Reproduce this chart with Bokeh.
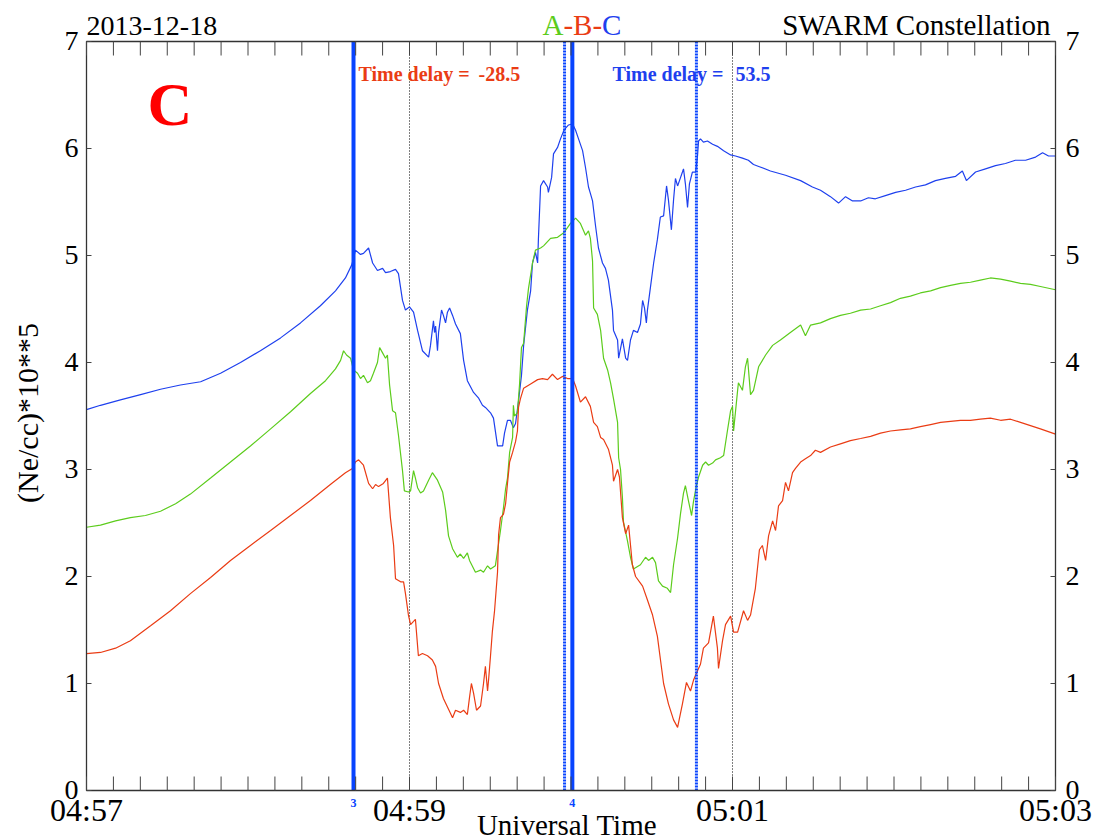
import math
from bokeh.plotting import figure
from bokeh.models import Range1d
from bokeh.core.properties import value
from bokeh.embed import file_html
from bokeh.resources import INLINE

# ---- data: time in seconds after 04:57:00 UT, density in 10^5 /cc ----
t_c = [0.0, 5.2, 12.6, 20.1, 27.5, 34.9, 42.4, 49.8, 57.2, 64.6, 72.1, 79.5, 86.9, 92.5, 96.2, 98.5,
       99.2, 99.9, 101.8, 102.9, 104.8, 106.3, 108.1, 110.0, 111.1, 112.9, 114.8, 115.9, 117.4, 118.5,
       120.0, 121.5, 123.0, 124.8, 127.1, 127.8, 128.9, 129.3, 129.7, 130.4, 130.8, 131.9, 132.6, 133.4,
       134.1, 134.9, 136.0, 137.1, 138.9, 140.1, 141.5, 143.8, 145.6, 147.1, 148.2, 150.1, 151.2, 152.7,
       154.6, 155.3, 156.4, 157.5, 158.6, 159.4, 160.5, 161.6, 162.4, 163.8, 165.0, 165.7, 166.8, 167.6,
       167.9, 168.7, 169.8, 171.3, 171.6, 172.8, 173.5, 175.0, 176.1, 177.2, 178.0, 179.1, 180.6, 181.7,
       182.8, 184.3, 185.4, 186.5, 187.2, 188.0, 189.1, 190.2, 191.7, 192.8, 193.9, 195.4, 195.8, 197.3,
       197.7, 198.4, 199.1, 200.3, 201.0, 202.1, 203.2, 204.7, 205.8, 206.6, 207.3, 208.0, 208.4, 209.5,
       210.7, 212.1, 213.2, 214.4, 215.5, 216.2, 217.3, 218.1, 218.8, 219.6, 220.3, 221.4, 221.8, 222.5,
       223.3, 224.0, 225.1, 226.3, 227.0, 227.4, 228.1, 229.2, 230.7, 232.6, 234.4, 236.7, 239.3, 241.1,
       243.7, 245.9, 247.8, 250.0, 254.1, 259.7, 265.3, 269.7, 272.7, 276.4, 279.4, 282.0, 284.6, 287.6,
       290.5, 293.1, 296.8, 300.6, 304.3, 308.0, 311.7, 315.4, 319.1, 322.9, 325.4, 326.9, 330.3, 334.0,
       337.7, 341.4, 345.1, 348.9, 352.6, 355.2, 357.4, 360.0]
ne_c = [3.56, 3.60, 3.65, 3.70, 3.75, 3.79, 3.82, 3.90, 4.00, 4.11, 4.23, 4.37, 4.53, 4.67, 4.79, 4.91,
        4.97, 5.05, 5.01, 5.02, 5.07, 4.93, 4.86, 4.88, 4.84, 4.85, 4.87, 4.83, 4.58, 4.49,
        4.52, 4.47, 4.30, 4.11, 4.05, 4.16, 4.39, 4.28, 4.34, 4.11, 4.28, 4.49, 4.44, 4.37,
        4.47, 4.51, 4.44, 4.36, 4.27, 4.02, 3.83, 3.72, 3.67, 3.60, 3.58, 3.53, 3.48, 3.22,
        3.22, 3.34, 3.46, 3.46, 3.39, 3.43, 3.64, 3.88, 4.16, 4.49, 4.67, 4.93, 5.03, 4.93,
        5.16, 5.65, 5.70, 5.64, 5.59, 5.73, 5.95, 6.01, 6.09, 6.16, 6.19, 6.22, 6.23, 6.17,
        6.09, 5.98, 5.82, 5.64, 5.58, 5.51, 5.28, 5.07, 4.93, 4.88, 4.77, 4.49, 4.30, 4.21,
        4.04, 4.13, 4.22, 4.04, 4.02, 4.21, 4.30, 4.28, 4.36, 4.58, 4.51, 4.37, 4.49, 4.70,
        4.93, 5.15, 5.36, 5.37, 5.65, 5.52, 5.24, 5.52, 5.72, 5.65, 5.70, 5.78, 5.81, 5.67,
        5.45, 5.67, 5.78, 5.78, 5.93, 6.07, 6.09, 6.06, 6.07, 6.04, 6.02, 5.98, 5.94, 5.93,
        5.91, 5.89, 5.85, 5.83, 5.79, 5.75, 5.70, 5.64, 5.61, 5.55, 5.49, 5.55, 5.51, 5.51,
        5.54, 5.53, 5.56, 5.59, 5.61, 5.64, 5.66, 5.70, 5.72, 5.74, 5.79, 5.70, 5.78, 5.81,
        5.84, 5.86, 5.89, 5.89, 5.92, 5.96, 5.93, 5.93]

t_a = [0.0, 5.2, 10.8, 16.3, 21.9, 27.5, 33.1, 38.6, 46.1, 53.5, 60.9, 68.4, 75.8, 83.2, 88.8, 92.5,
       94.4, 95.5, 96.6, 98.1, 99.2, 100.7, 101.8, 102.9, 104.4, 105.5, 106.6, 108.1, 108.9, 110.0,
       111.1, 111.8, 112.6, 113.7, 114.8, 115.9, 117.4, 118.1, 119.6, 120.4, 121.5, 122.2, 123.0, 124.1,
       125.2, 127.1, 128.5, 130.4, 132.3, 133.4, 134.5, 136.0, 137.8, 138.9, 140.1, 141.5, 142.3, 144.5,
       146.4, 147.5, 149.0, 150.1, 151.9, 152.7, 153.8, 154.9, 155.7, 156.4, 157.2, 158.3, 158.6, 159.0,
       160.1, 160.9, 161.6, 162.4, 163.5, 164.2, 165.7, 166.8, 168.7, 169.8, 172.4, 175.0, 177.2, 178.7,
       179.8, 181.7, 183.5, 185.4, 186.5, 187.2, 188.0, 188.4, 189.8, 191.0, 192.1, 193.6, 194.7, 195.8,
       197.3, 197.7, 198.4, 199.1, 199.5, 201.0, 202.1, 203.2, 205.8, 207.7, 208.8, 210.3, 211.4, 212.5,
       214.0, 215.8, 217.0, 218.1, 219.6, 220.7, 221.8, 222.5, 223.7, 224.8, 225.5, 226.6, 227.4, 228.9,
       230.0, 231.1, 232.6, 233.7, 235.5, 236.7, 238.1, 239.3, 240.0, 240.4, 241.9, 242.2, 243.7, 244.8,
       245.6, 246.7, 247.8, 249.7, 252.3, 254.9, 257.8, 261.5, 265.3, 267.1, 269.0, 272.7, 276.4, 280.1,
       283.8, 287.6, 291.3, 295.0, 298.7, 302.4, 306.1, 309.8, 313.6, 317.3, 321.0, 324.7, 328.4, 332.1,
       335.8, 339.6, 343.3, 347.0, 350.7, 354.4, 360.0]
ne_a = [2.46, 2.48, 2.52, 2.55, 2.57, 2.61, 2.68, 2.77, 2.92, 3.07, 3.22, 3.38, 3.54, 3.71, 3.83, 3.94,
        4.02, 4.11, 4.07, 4.04, 3.93, 3.90, 3.85, 3.88, 3.81, 3.83, 3.90, 4.00, 4.14, 4.09,
        4.04, 4.07, 3.79, 3.55, 3.53, 3.32, 2.99, 2.80, 2.79, 2.80, 2.99, 2.92, 2.83, 2.78,
        2.80, 2.90, 2.97, 2.90, 2.79, 2.62, 2.38, 2.26, 2.18, 2.21, 2.17, 2.22, 2.15, 2.04,
        2.06, 2.04, 2.10, 2.07, 2.10, 2.24, 2.43, 2.64, 2.82, 2.92, 3.16, 3.30, 3.60, 3.50,
        3.53, 3.80, 4.14, 4.18, 4.53, 4.69, 4.93, 5.05, 5.07, 5.09, 5.16, 5.17, 5.21, 5.26,
        5.30, 5.35, 5.30, 5.19, 5.23, 5.16, 4.95, 4.51, 4.45, 4.30, 4.04, 3.93, 3.81, 3.66,
        3.44, 3.11, 3.00, 2.74, 2.51, 2.33, 2.18, 2.07, 2.11, 2.18, 2.15, 2.18, 2.13, 1.96,
        1.91, 1.89, 1.85, 2.11, 2.36, 2.59, 2.78, 2.85, 2.70, 2.57, 2.70, 2.85, 2.93, 3.04,
        3.07, 3.04, 3.06, 3.09, 3.11, 3.13, 3.36, 3.55, 3.59, 3.36, 3.74, 3.81, 3.74, 3.96,
        4.04, 3.70, 3.74, 3.96, 4.07, 4.16, 4.21, 4.28, 4.35, 4.25, 4.35, 4.37, 4.41, 4.44,
        4.46, 4.49, 4.50, 4.53, 4.56, 4.60, 4.62, 4.65, 4.67, 4.70, 4.72, 4.74, 4.75, 4.77,
        4.79, 4.78, 4.76, 4.74, 4.73, 4.71, 4.68]

t_b = [0.0, 5.2, 10.8, 16.3, 23.8, 31.2, 38.6, 46.1, 53.5, 60.9, 68.4, 75.8, 83.2, 90.6, 96.2, 98.8,
       99.9, 101.1, 102.9, 104.8, 106.3, 107.4, 108.5, 110.3, 111.8, 112.9, 114.1, 114.8, 116.7, 117.8,
       118.5, 119.6, 120.4, 121.5, 122.2, 123.3, 124.8, 126.7, 128.5, 129.7, 130.8, 132.6, 134.5, 136.0,
       137.1, 138.9, 140.1, 141.5, 142.3, 143.0, 143.8, 144.9, 146.4, 147.5, 148.2, 149.0, 149.4, 150.1,
       150.8, 151.6, 152.7, 153.1, 153.8, 154.9, 155.7, 156.4, 157.2, 158.3, 159.4, 160.1, 160.5, 161.2,
       162.4, 165.0, 167.6, 169.4, 171.3, 173.1, 175.0, 176.8, 178.7, 180.6, 181.7, 183.5, 185.4, 187.2,
       188.4, 189.8, 191.0, 192.1, 193.9, 195.4, 195.8, 197.3, 198.0, 199.1, 200.3, 201.4, 202.8, 204.0,
       206.6, 208.4, 210.3, 212.1, 213.3, 214.4, 216.2, 218.1, 219.6, 221.4, 222.9, 224.4, 225.5, 227.0,
       228.1, 229.2, 231.1, 232.9, 234.4, 234.8, 236.3, 237.4, 239.3, 240.4, 241.9, 244.1, 245.6, 246.7,
       248.5, 250.0, 251.1, 252.3, 253.4, 254.9, 256.0, 257.1, 258.6, 259.7, 260.8, 262.3, 263.4, 265.3,
       267.1, 269.0, 270.8, 272.7, 276.4, 280.1, 283.8, 287.6, 291.3, 295.0, 298.7, 302.4, 306.1, 309.8,
       313.6, 317.3, 321.0, 324.7, 328.4, 332.1, 335.8, 339.6, 343.3, 347.0, 350.7, 354.4, 360.0]
ne_b = [1.28, 1.29, 1.33, 1.40, 1.54, 1.68, 1.84, 1.99, 2.15, 2.29, 2.43, 2.57, 2.71, 2.86, 2.97, 3.01,
        3.07, 3.09, 3.04, 2.87, 2.82, 2.86, 2.84, 2.87, 2.92, 2.55, 2.29, 1.98, 1.95, 1.95,
        1.84, 1.64, 1.55, 1.58, 1.60, 1.26, 1.28, 1.26, 1.22, 1.16, 1.00, 0.86, 0.76, 0.68,
        0.75, 0.73, 0.75, 0.71, 0.87, 1.00, 0.91, 0.75, 0.79, 1.00, 1.16, 0.93, 1.04, 1.26,
        1.49, 1.68, 2.04, 2.39, 2.55, 2.58, 2.68, 2.87, 3.07, 3.16, 3.26, 3.36, 3.58, 3.66,
        3.76, 3.80, 3.84, 3.85, 3.84, 3.89, 3.84, 3.87, 3.85, 3.85, 3.78, 3.63, 3.68, 3.59,
        3.44, 3.40, 3.30, 3.28, 3.19, 3.04, 2.89, 3.00, 2.93, 2.55, 2.40, 2.48, 2.11, 2.00,
        1.91, 1.78, 1.64, 1.44, 1.21, 1.00, 0.81, 0.66, 0.59, 0.81, 1.01, 0.93, 1.03, 1.12,
        1.18, 1.33, 1.38, 1.63, 1.33, 1.14, 1.40, 1.55, 1.63, 1.48, 1.48, 1.68, 1.59, 1.64,
        1.89, 2.25, 2.29, 2.15, 2.38, 2.52, 2.43, 2.66, 2.71, 2.88, 2.80, 2.97, 3.01, 3.07,
        3.10, 3.13, 3.18, 3.16, 3.21, 3.24, 3.27, 3.29, 3.31, 3.34, 3.36, 3.37, 3.38, 3.40,
        3.42, 3.44, 3.45, 3.46, 3.46, 3.47, 3.48, 3.46, 3.47, 3.44, 3.41, 3.38, 3.33]

xtick_secs = [0, 120, 240, 360]
xtick_labels = ["04:57", "04:59", "05:01", "05:03"]
minor_secs = list(range(0, 361, 10))
ytick_vals = [0, 1, 2, 3, 4, 5, 6, 7]

marker_secs = [99.2, 180.5]        # solid blue markers
marker_names = ["3", "4"]
shifted_secs = [177.6, 226.6]      # dotted blue (time-shifted) markers
ref_secs = [120, 240]              # black dotted reference lines
delay_red = "-28.5"
delay_blue = "53.5"

# ---- layout (pixels) ----
W, H = 1095, 839
LEFT, RIGHT, TOP, BOTTOM = 86, 40, 41, 49
px_x = (W - LEFT - RIGHT) / (xtick_secs[-1] - xtick_secs[0])   # px per second
px_y = (H - TOP - BOTTOM) / (ytick_vals[-1] - ytick_vals[0])   # px per unit
x0, x1 = xtick_secs[0], xtick_secs[-1]
y0, y1 = ytick_vals[0], ytick_vals[-1]

BLUE = "#1e40ee"
GREEN = "#5ccc1c"
RED = "#ea3c14"
MARK = "#0844ff"
FONT = value("Liberation Serif")

p = figure(width=W, height=H,
           x_range=Range1d(x0 - LEFT / px_x, x1 + RIGHT / px_x),
           y_range=Range1d(y0 - BOTTOM / px_y, y1 + TOP / px_y),
           x_axis_location=None, y_axis_location=None, min_border=0,
           output_backend="svg", toolbar_location=None)
p.xgrid.visible = False
p.ygrid.visible = False
p.outline_line_color = None
p.background_fill_color = "white"
p.border_fill_color = "white"

# reference dotted lines
p.segment(x0=ref_secs, y0=[y0] * len(ref_secs), x1=ref_secs, y1=[y1] * len(ref_secs),
          line_color="black", line_width=1, line_dash="1 2")

# data
p.line(t_c, ne_c, line_color=BLUE, line_width=1.2)
p.line(t_a, ne_a, line_color=GREEN, line_width=1.2)
p.line(t_b, ne_b, line_color=RED, line_width=1.2)

# markers
p.segment(x0=shifted_secs, y0=[y0] * 2, x1=shifted_secs, y1=[y1] * 2,
          line_color=MARK, line_width=3, line_dash="2 1")
p.segment(x0=marker_secs, y0=[y0] * 2, x1=marker_secs, y1=[y1] * 2,
          line_color=MARK, line_width=4)

# ---- axes box, ticks and tick labels ----
p.quad(left=[x0], right=[x1], bottom=[y0], top=[y1], fill_color=None,
       line_color="#333333", line_width=1.3)
tx = 14 / px_y
p.segment(x0=minor_secs, y0=[y0] * len(minor_secs), x1=minor_secs, y1=[y0 + tx] * len(minor_secs),
          line_color="#444444", line_width=1)
p.segment(x0=minor_secs, y0=[y1] * len(minor_secs), x1=minor_secs, y1=[y1 - tx] * len(minor_secs),
          line_color="#444444", line_width=1)
ty = 5 / px_x
p.segment(x0=[x0] * len(ytick_vals), y0=ytick_vals, x1=[x0 + ty] * len(ytick_vals), y1=ytick_vals,
          line_color="#444444", line_width=1)
p.segment(x0=[x1] * len(ytick_vals), y0=ytick_vals, x1=[x1 - ty] * len(ytick_vals), y1=ytick_vals,
          line_color="#444444", line_width=1)

p.text(x=xtick_secs, y=[y0] * len(xtick_secs), text=xtick_labels, text_font=FONT,
       text_font_size="32px", text_align="center", text_baseline="alphabetic",
       y_offset=19, text_color="black")
ylab = [str(v) for v in ytick_vals]
p.text(x=[x0] * len(ytick_vals), y=ytick_vals, text=ylab, text_font=FONT, text_font_size="28px",
       text_align="right", text_baseline="alphabetic", x_offset=-8, y_offset=-1, text_color="black")
p.text(x=[x1] * len(ytick_vals), y=ytick_vals, text=ylab, text_font=FONT, text_font_size="28px",
       text_align="left", text_baseline="alphabetic", x_offset=10, y_offset=-1, text_color="black")

p.text(x=[x0], y=[(y0 + y1) / 2], text=["(Ne/cc)*10**5"], angle=math.pi / 2, text_font=FONT,
       text_font_size="30px", text_align="center", text_baseline="middle",
       x_offset=-59, y_offset=-3, text_color="black")
p.text(x=[(x0 + x1) / 2], y=[y0], text=["Universal Time"], text_font=FONT, text_font_size="29px",
       text_align="center", text_baseline="alphabetic", x_offset=-4, y_offset=34,
       text_color="black")

p.text(x=marker_secs, y=[y0] * len(marker_secs), text=marker_names, text_font=FONT,
       text_font_size="12px", text_font_style="bold", text_align="center",
       text_baseline="alphabetic", y_offset=12, text_color=MARK)

# ---- titles and annotations ----
p.text(x=[x0], y=[y1], text=["2013-12-18"], text_font=FONT, text_font_size="28px",
       text_align="left", text_baseline="alphabetic", y_offset=-16, text_color="black")
p.text(x=[x1], y=[y1], text=["SWARM Constellation"], text_font=FONT, text_font_size="29px",
       text_align="right", text_baseline="alphabetic", x_offset=-5, y_offset=-17,
       text_color="black")
title_parts = ["A", "-B-", "C"]
title_colors = [GREEN, RED, BLUE]
title_offsets = [-28.5, -7.6, 31.1]
p.text(x=[(x0 + x1) / 2] * 3, y=[y1] * 3, text=title_parts, text_color=title_colors,
       x_offset=title_offsets, y_offset=-17, text_font=FONT, text_font_size="29px",
       text_align="left", text_baseline="alphabetic")

p.text(x=[x0], y=[y1], text=["C"], text_font=FONT, text_font_size="62px", text_font_style="bold",
       text_align="left", text_baseline="alphabetic", x_offset=61, y_offset=62,
       text_color="#ff0000")

p.text(x=[marker_secs[0]] * 2, y=[y1] * 2, text=["Time delay =", delay_red],
       x_offset=[5, 125], y_offset=32, text_font=FONT, text_font_size="20px",
       text_font_style="bold", text_align="left", text_baseline="alphabetic", text_color=RED)
p.text(x=[shifted_secs[1]] * 2, y=[y1] * 2, text=["Time delay =", delay_blue],
       x_offset=[-84, 39], y_offset=32, text_font=FONT, text_font_size="20px",
       text_font_style="bold", text_align="left", text_baseline="alphabetic", text_color=BLUE)

open("out.html", "w").write(file_html(p, INLINE))
